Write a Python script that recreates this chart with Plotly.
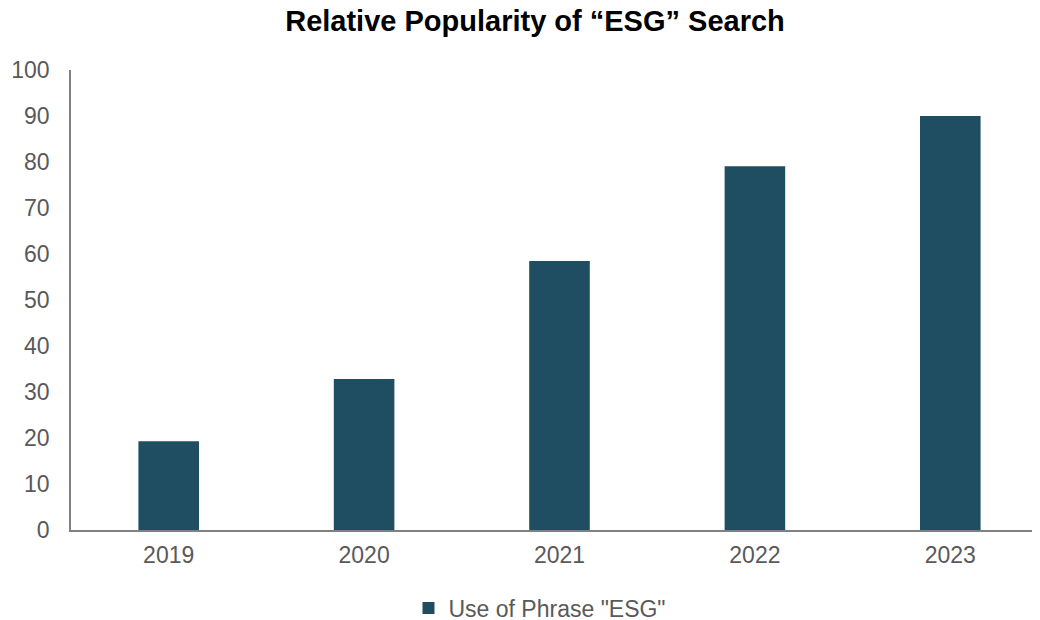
import plotly.graph_objects as go

years = ["2019", "2020", "2021", "2022", "2023"]
values = [19.3, 32.8, 58.5, 79.1, 90.0]
series_name = 'Use of Phrase "ESG"'
title_text = "Relative Popularity of \u201cESG\u201d Search"
y_ticks = [0, 10, 20, 30, 40, 50, 60, 70, 80, 90, 100]

fig = go.Figure()
fig.add_trace(go.Bar(
    x=years, y=values, name=series_name,
    marker=dict(color="#1F4E63", line=dict(width=0)),
    showlegend=True,
))

font_family = "Liberation Sans, Arial, sans-serif"
fig.update_layout(
    width=1040, height=620,
    paper_bgcolor="white", plot_bgcolor="white",
    margin=dict(l=63, r=0, t=62, b=98, autoexpand=False),
    bargap=0.69,
    title=dict(text="<b>" + title_text + "</b>", x=527/1040, xref="container", xanchor="center",
               y=1 - 13/620, yref="container", yanchor="middle",
               font=dict(family=font_family, size=29, color="black")),
    font=dict(family=font_family, size=23, color="#595959"),
    xaxis=dict(
        type="category", range=[-0.5, 4.5], automargin=False,
        showline=True, linecolor="#808080", linewidth=1.5,
        showgrid=False, ticks="", ticklabelstandoff=4,
        tickfont=dict(size=23, color="#595959"),
    ),
    yaxis=dict(
        range=[0, 100], tickvals=y_ticks, automargin=False,
        showline=True, linecolor="#808080", linewidth=1.5,
        showgrid=False, zeroline=False, ticks="", ticklabelstandoff=15,
        tickfont=dict(size=23, color="#595959"),
    ),
    legend=dict(orientation="h", x=(532-63)/977, xanchor="center",
                y=-78/460, yanchor="middle",
                font=dict(size=23, color="#595959"),
                itemwidth=30, tracegroupgap=0),
)

fig.write_html("out.html")
